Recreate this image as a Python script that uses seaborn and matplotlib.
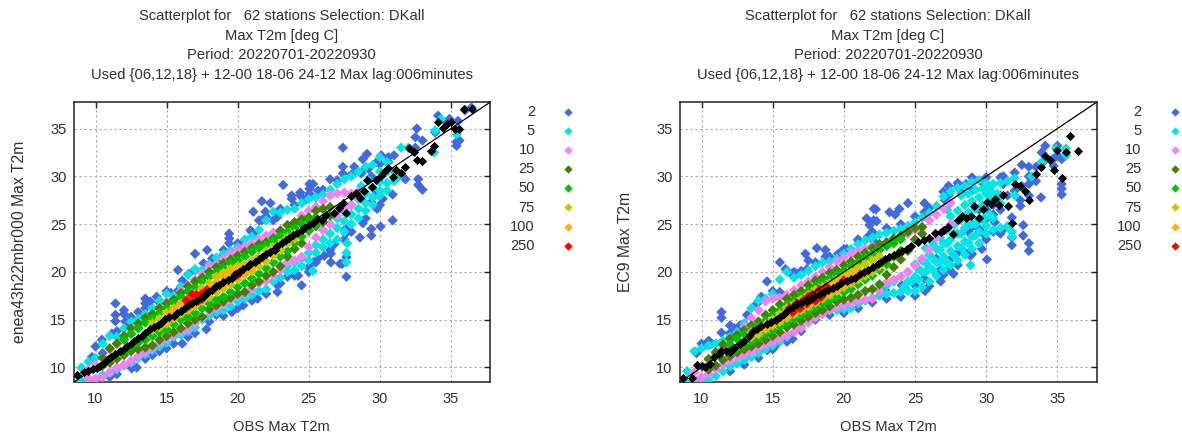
import matplotlib
matplotlib.use("Agg")
import matplotlib.pyplot as plt
import pandas as pd
import seaborn as sns

classes = ["2", "5", "10", "25", "50", "75", "100", "250"]
colors = ["#4169e1", "#00e6e6", "#f580f5", "#458000", "#00c000", "#c8c800", "#ffb000", "#ff0000"]
title_lines = "Scatterplot for   62 stations Selection: DKall\nMax T2m [deg C]\nPeriod: 20220701-20220930\nUsed {06,12,18} + 12-00 18-06 24-12 Max lag:006minutes"
ticks = [10, 15, 20, 25, 30, 35]

# ---- left panel: enea43h22mbr000 ----
l2_x = [9.75,10,10.45,11.15,11.4,12,12,11.4,11.4,12.1,12.3,13.5,13.5,13.5,13.85,14.3,13.26,15.7,16.1,16.55,15.8,17,17.85,18.2,18.8,19.4,19.4,19.4,20.9,21.1,21.1,21.7,22.3,21.95,21.5,21.7,22.5,22.8,20,17.6,
        23.2,23.8,23.8,24.4,24.4,25.05,25.05,25.05,25.3,25.65,26.5,27.4,27.4,27.4,28.2,28.8,29.1,30.1,31,30,29.2,28.7,29.4,30.6,32.5,32.6,33,32.5,34.1,34.7,35.5,35.4,35.6,35.4,36.45,36,33.9,34.9,
        27.65,27.35,27.2,27.65,26.55,26.55,26.8,28.6,29.4,29.4,30.05,30.9,28.8,27.6,27.6,29.8,30.2,30.9,32.7,33,32.7,31.8,29.65,29.4,25,25,24.25,23.5,22.8,24.5,25.65,26.1,25.3,
        9.6,11,12.55,12.9,15,16.1,17.8,18.5,20.4,21.4,22.8,
        10.5,11.5,12.5,13,14.5,15,15.3,16.2,17,18,19,20.3,21,22,23,24,24.8,26,27,28,29,29.8,30.6,
        10,11.5,13.5,14,14.5,15.5,16.5,17,18,19,19.6,20,21,22,23,24,25.5,26.5,27.5,28,29,30]
l2_y = [11.1,12.2,12.9,13.55,16.7,16,15.6,15.5,14.85,14.8,14.4,17.2,16.7,16.2,16.9,17.4,15,17.9,19.1,19.8,20.2,21.9,22.3,21.4,21.4,24,23.5,23,24.35,24,26.3,27.4,27.2,26.3,25.4,25.4,25.4,25.75,23,20.9,
        29.1,28,27.65,28.3,28,29.2,28.7,28.2,29.2,28.5,29.7,33,31,30.3,31,31.8,32.35,32.2,32.2,31.3,30.8,30.3,30,31.5,34.1,35,33.75,33,36.35,35.7,35.8,33.6,33.75,33.2,37.2,36.9,34.6,36,
        19.5,20.85,20.85,21.55,21,21.9,22.9,23.6,23.8,24.5,24.75,25.4,25.1,24,24.5,26.6,27.65,28.1,29.1,28.6,29.7,29.7,28,27.3,20.5,20,19.6,19.5,18.6,18.6,21.4,21.7,21,
        8.33,9,9.9,10,12,12.5,14,15.5,16.5,17.2,17.9,
        11.5,13.8,15.3,15.8,16.8,18,17.8,18.9,20.2,20.8,22.3,22.9,24.2,25.8,26.6,27,27.6,28.6,29.6,30.2,30.9,31.5,32,
        8.6,9.3,10.9,11.3,11.7,12.5,13.2,13.6,14.8,15.4,15.8,16.2,17,17.7,18.8,19.6,21,22.3,23.4,24.2,25.6,27]

l5_x = [9,9.5,10,10.5,11,11.5,12,12.5,13,13.5,14,14.5,15,15.5,16,16.5,17,17.5,18,18.5,19,19.5,20,20.5,21,21.5,22,22.5,23,23.5,24,24.5,25,25.5,26,26.5,27,27.5,28,28.5,29,29.5,30,30.5,31]
l5_hi = [10,10.6,11,12.5,13.3,13.2,14.1,14.8,15.1,15.6,16.2,17,17.7,17.5,18.5,19.7,20.3,20.2,20.8,21.5,21.9,22.2,22.6,23.4,23.7,24.4,25.4,26.3,26.2,26.5,26.6,27.2,27.6,27.8,28.1,28.6,29.2,29.7,30,30.5,31,31.2,32,31.5,30.5]
l5_lo = [8.6,8.5,8.8,9.2,9.4,9.8,10.2,10.5,11,11.4,11.8,12.2,12.6,13.2,13.4,13.8,14.2,15,15.4,15.8,16,16.4,16.9,17.2,17.6,18,18.2,19,19.4,20,20.2,20.6,21.2,22,22.6,23,23.4,24.2,25,25.6,26.4,27,28,28.5,29.5]
l5_xe = [23.5,24,24.5,25,25.5,26,26.5,27,27.5,28,28.5,29,29.5,30,30.5,26,26.5,27,27.5,28,28.5,29,29.5,30,33.9,35.4,33.8,34.3,32,31.5,27.7,27.65,27.65,25.3,28.7,29.2,30,30.5,31.3]
l5_ye = [20.6,21,21.4,22,22.8,23.4,24,24.6,25.3,26,26.6,27.2,27.8,28.5,29.3,24.4,25,25.6,26.3,27,27.6,28.2,28.8,29.4,34.8,34.4,32.5,36,33,33,23,22,21,20.1,29,29.6,30.5,30.5,29.9]

l10_x = [9.5,10,10.5,11,11.5,12,12.5,13,13.5,14,14.5,15,15.5,16,16.5,17,17.5,18,18.5,19,19.5,20,20.5,21,21.5,22,22.5,23,23.5,24,24.5,25,25.5,26,26.5,27,27.5,28,28.5]
l10_hi = [9.8,10.3,11,11.9,12.5,13,13.6,14.3,15,15.5,16.3,16.9,17.2,18,18.6,19.2,19.8,20.6,20.8,21.4,21.9,22.3,22.7,23,23.4,23.8,24.1,24.4,24.9,25.2,25.9,26.4,26.8,27.4,28,28.2,28.3,28.2,28.4]
l10_lo = [8.9,8.8,9,9.5,10,10.3,10.7,11.2,11.6,12,12.6,13,13.4,13.8,14,14.6,15.2,15.9,16.2,16.6,17.1,17.5,17.7,18.2,18.8,19.1,19.6,20.2,21,21.2,21.6,22.6,23.6,24.4,25,25.9,26.6,27,27.8]

l25_x = [10.5,11,11.5,12,12.5,13,13.5,14,14.5,15,15.5,16,16.5,17,17.5,18,18.5,19,19.5,20,20.5,21,21.5,22,22.5,23,23.5,24,24.5,25,25.5,26,26.5]
l25_hi = [11,12,12.5,13.3,14.1,14.6,15.2,15.6,16.2,16.7,17.1,17.8,18.5,19,19.4,20,20.5,20.9,21.3,21.7,22.1,22.5,22.9,23.1,23.5,24.3,24.9,25.2,25.5,25.7,26.4,26.6,26.8]
l25_lo = [10.2,10.5,10.9,11.3,11.7,11.9,12.1,12.3,12.9,13.3,13.7,14.1,14.6,15,15.3,16.1,16.5,16.9,17.3,17.7,17.9,18.6,19,19.6,20,20.6,21.6,22.4,23,24.3,24.8,25.2,25.9]

l50_x = [12,12.5,13,13.5,14,14.5,15,15.5,16,16.5,17,17.5,18,18.5,19,19.5,20,20.5,21,21.5,22,22.5,23,23.5,24,24.5,25,25.5]
l50_hi = [12.9,13.5,14.1,14.7,15.2,15.7,16.2,16.8,17.4,18,18.4,19,19.5,20,20.4,20.9,21.2,21.6,22.1,22.5,22.8,23.3,23.8,24.2,24.6,25,25.4,25.7]
l50_lo = [11.6,12.2,12.6,12.9,13.3,13.7,14,14.5,15,15.3,15.7,16.2,16.7,17.1,17.4,17.9,18.4,18.8,19.3,19.8,20.4,21,21.6,22.2,23,23.7,24.4,25]

l75_x = [14,14.5,15,15.5,16,16.5,17,17.5,18,18.5,19,19.5,20,20.5,21,21.5,22,22.5,23,23.5,24]
l75_hi = [14.6,15.1,15.7,16.2,16.7,17.2,17.7,18.3,18.8,19.5,19.9,20.3,20.6,20.8,21.2,21.6,22.2,22.6,23,23.6,24]
l75_lo = [13.9,14.2,14.6,15.1,15.6,16,16.4,16.9,17.4,17.9,18.3,18.7,19.2,19.7,20.1,20.6,21.1,21.7,22.3,23,23.5]

l100_x = [15,15.5,16,16.5,17,17.5,18,18.5,19,19.5,20,20.5,21]
l100_hi = [15.4,15.9,16.5,17,17.4,17.9,18.4,18.9,19.5,19.9,20.2,20.5,20.9]
l100_lo = [14.9,15.4,15.9,16.3,16.8,17.3,17.8,18.2,18.7,19.2,19.6,20,20.5]

l250_x = [16.4,16.8,17.1,17.5,17.85,17.25,20,16.6,17.5]
l250_y = [17,17.6,17.6,17.7,18.1,17,19.7,16.5,17.2]

l_black_x = [8.7,9.2,9.5,9.8,10.1,10.3,10.6,10.9,11.1,11.4,11.7,11.9,12.2,12.5,12.7,13,13.3,13.5,13.8,14.1,14.4,14.6,14.9,15.2,15.5,15.7,16,16.3,16.5,16.8,17.1,17.4,17.6,17.9,18.2,18.5,18.7,19,19.3,19.6,19.8,20.1,20.4,20.7,20.9,21.2,21.5,21.7,22,22.3,22.6,22.8,23.1,23.4,23.6,23.9,24.2,24.5,24.7,25,25.3,25.6,
             25.9,26.24,26.76,27.1,27.4,27.65,28,28.3,28.6,28.87,29.1,29.46,29.72,30.05,30.3,30.54,30.94,31.17,31.5,31.76,32.04,32.4,32.63,33,33.57,33.8,34.1,34.46,34.74,35,35.3,35.56,35.9,36.45]
l_black_y = [9.2,9.5,9.6,9.8,9.9,10.2,10.5,10.9,11.1,11.4,11.7,11.8,12.2,12.5,12.8,13.1,13.3,13.6,14,14.2,14.4,14.7,15.1,15.3,15.4,15.7,15.9,16.2,16.5,16.8,17,17.3,17.5,17.9,18.1,18.5,18.6,18.9,19.2,19.4,19.8,20,20.3,20.6,20.8,21,21.4,21.6,21.9,22.1,22.3,22.7,23,23.3,23.6,23.9,24.1,24.4,24.6,24.9,25.1,25.5,
             25.4,25.98,26.18,26.67,27.2,26.18,27.9,28.3,27.7,28.45,29.67,28.87,29.67,30,30.5,30.85,29.9,30.7,30.4,31,33,32.5,31.76,31.65,32.7,33.2,35.7,35.1,35.5,35.66,35,35,37,37.05]

# ---- right panel: EC9 ----
r2_x = [9.65,10,10.25,10.7,11.4,11.4,11.4,12,12.3,12.7,13.2,13.9,14.6,15.5,16.3,16.7,17.4,17.3,17.5,18.1,18.7,18.7,19.6,20.2,21,21.6,21.8,22.25,22.3,21.7,22.06,15.5,
        8.7,9.3,14.1,14.6,15.15,16.4,18.1,18.8,20.2,
        22.1,22.1,23.2,23.6,23.9,24.5,25.66,25.66,27.35,27.35,27.35,28,28.57,27.1,28.3,29,29.7,31.2,31.2,32.5,33,33.5,33.85,34.15,33.9,35,35.56,35,35.3,34.74,35.3,35.3,35.3,33,33,
        31.8,31.8,31.8,33,33,32.6,32.6,32.4,32.4,31.1,30.9,30.05,29.7,28.6,28.9,28,27.6,27.35,27.7,26.76,26.8,25.7,25.66,25,24.06,22.9,26.5,30.6,29,28.75,29.5,29.8,30.5,
        30.5,31,31.5,30,29.5,32,32.5,31,30.5,30,29,33,33.5,34,34.7,
        10.5,12,13,14.2,15,15.9,16.5,17,18,19,20,21,22,23,24,25,26,27,28,29,30,31,32,
        10.5,12,13,14,15,16,17,18,19,20,21,22,23,24,25,26,27,28,29,30,31]
r2_y = [11.5,12.5,12.3,12.5,15.8,15.2,13.65,14.4,14.1,14.4,15.5,16.7,19,21,19.8,19.8,20.3,21.9,21.2,22.5,22.3,21.6,21.9,22.4,23.3,25.6,24.9,26.55,25.3,23.7,23.3,17.9,
        8.4,8.4,11.8,11.8,12.2,13,15.5,15.8,16.3,
        26.6,25.4,26.25,26,26.6,27.2,27.2,26.25,29,28.3,28,28.9,29.2,27.5,28.2,28.5,29.4,30,29.2,31.2,31,29.5,27.8,33.2,32.5,33.2,32.2,32.2,31.8,31.1,29.2,28.7,28.1,29.2,28,
        22.8,23.6,25.7,23,22.2,23.8,24.9,26.9,27.5,24.3,24.2,21.3,22.4,21.9,21.7,22,21.5,20.3,19.8,20.2,19,18,19.3,18.6,18.6,18.1,21.4,25.2,24.7,24.2,24.5,24,24.2,
        27,28,28,26.5,26.5,28.5,29,26.5,26,25.5,25,30,31,31.5,31.8,
        12.8,13.6,14.6,17.4,18,20.3,20,20.1,21,21.6,22.4,23.4,24.2,24.6,25,25.8,26.7,28.4,29.3,29.9,29.9,29.9,30.4,
        8.5,9.6,10.3,11,11.9,12.7,13.8,15,15.5,15.7,16.2,16.8,17.2,17.4,17.5,18.5,19.7,20.7,21.9,23.4,24]

r5_x = [9,9.5,10,10.5,11,11.5,12,12.5,13,13.5,14,14.5,15,15.5,16,16.5,17,17.5,18,18.5,19,19.5,20,20.5,21,21.5,22,22.5,23,23.5,24,24.5,25,25.5,26,26.5,27,27.5,28,28.5,29,29.5,30,30.5,31,31.5,32]
r5_hi = [9.6,11.7,12,12.3,12.5,12.8,13.2,13.7,14.6,16.2,17,17.2,17.7,19.2,20,19.4,19.7,20.1,20.6,21,21.1,21.4,21.9,22.4,22.9,23.3,23.6,23.9,24.1,24.3,24.5,24.8,25.2,25.7,26.2,26.9,27.9,28.4,28.8,29,29.4,29.6,29.3,29.2,29.3,29.5,29.8]
r5_lo = [8.3,8.4,8.5,8.7,9.1,9.6,10.1,10.4,10.8,11.1,11.5,11.9,12.3,12.7,13.2,13.7,14.3,14.9,15.5,15.9,16,16,16.1,16.2,16.7,17,17.3,17.5,17.7,17.8,17.9,18,18,18.4,19,19.6,20.2,20.7,21.2,21.8,22.4,23,24,24.4,24.6,24.8,28]
r5_xe = [22.5,23,23.5,24,24.5,25,25.5,26,26.5,27,27.5,28,28.5,29,29.5,30,24.5,25,25.5,26,26.5,27,27.5,28,28.5,29,29.5,30,30.5,27.5,28,28.5,29,29.5,30,30.5,31,33.9,34.2,34.9,35.6,35.6,33.2,31.8,31.8,28.9,
         24.25,24.75,25.25,25.75,26.25,26.75,27.25,27.75,28.25,28.75,29.25,25.25,25.75,26.25,26.75,27.25,27.75,28.25,28.75,29.25,29.75,30.25,25.75,26.25,26.75,27.25,27.75,28.25,28.75,29.25,29.75,30.25,30.75,27.25,28.25,28.75,29.25,29.75,30.25,30.75]
r5_ye = [18.2,18.6,19,19.5,20,20.8,21.2,21.8,22.4,23,23.4,24,24.6,25,25.5,25.8,19,19.5,20,20.5,21,21.6,22.2,22.7,23.2,23.7,24.2,24.8,25.6,25.8,26.4,27,27.4,27.8,28.2,28,27.2,31.5,32,32.9,32.9,32.2,30,24.2,23.7,20.7,
         18.5,19,19.2,20,20.2,21,21,21.7,22.5,23,23.8,20.3,21,21.4,22.3,23,24,24,25,25,25.5,26,22.5,23,23.6,24.4,25,25.5,26.2,26.6,27,27.5,27.5,26.5,28,28.2,28.6,28.7,28.6,28.2]

r10_x = [9.5,10,10.5,11,11.5,12,12.5,13,13.5,14,14.5,15,15.5,16,16.5,17,17.5,18,18.5,19,19.5,20,20.5,21,21.5,22,22.5,23,23.5,24,24.5,25,25.5,26,26.5,27,27.5]
r10_hi = [9.5,10.1,10.8,11.4,12,12.8,13.4,14.3,15.2,16,16.9,17.2,17.3,17.6,18.1,18.6,19,19.5,20,20.5,21.1,21.5,21.9,22.2,22.5,22.7,22.9,23.1,23.4,23.7,24,24.4,24.7,25.4,26,26.6,27.2]
r10_lo = [8.8,9,9.3,9.8,10.3,10.7,11.1,11.3,11.6,12,12.4,12.7,13,13.4,13.7,14.1,14.7,15.2,15.6,16,16.3,16.5,16.7,17,17.1,17.2,18,18.9,19.2,19.5,20,20.7,21.4,22.3,23.6,24.3,25]

r25_x = [10.5,11,11.5,12,12.5,13,13.5,14,14.5,15,15.5,16,16.5,17,17.5,18,18.5,19,19.5,20,20.5,21,21.5,22,22.5,23,23.5,24,24.5,25,25.5]
r25_hi = [10.9,11.6,12.4,13,13.4,13.9,14.4,14.8,15.5,16,16.6,17.2,17.6,18,18.6,19.1,19.4,19.9,20.2,20.7,21.1,21.6,22,22.5,22.9,23.1,23.5,23.8,24.2,24.6,24.7]
r25_lo = [9.8,10.2,10.8,11.2,11.6,11.9,12.2,12.5,12.9,13.3,13.7,14.2,14.5,14.9,15.3,15.7,16,16.4,16.9,17.1,17.3,17.6,18,18.2,18.7,19.7,20.5,21.3,22.2,23.4,24]

r50_x = [12,12.5,13,13.5,14,14.5,15,15.5,16,16.5,17,17.5,18,18.5,19,19.5,20,20.5,21,21.5,22,22.5,23,23.5,24]
r50_hi = [12.4,13,13.5,14,14.3,14.9,15.5,16,16.6,17,17.5,18,18.5,18.9,19.3,19.7,20.1,20.6,21,21.5,21.9,22.3,22.7,23,23.4]
r50_lo = [11.6,12,12.4,12.8,13.1,13.5,13.9,14.3,14.7,15.1,15.5,15.9,16.3,16.7,17,17.4,17.9,18.2,18.7,19.2,19.6,20.2,20.8,21.6,22.2]

r75_x = [13.5,14,14.5,15,15.5,16,16.5,17,17.5,18,18.5,19,19.5,20,20.5,21,21.5,22,22.5]
r75_hi = [13.7,14,14.5,15,15.6,16.2,16.6,17.1,17.6,18.1,18.4,18.8,19.2,19.6,20,20.4,20.8,21.2,21.6]
r75_lo = [13.2,13.5,14,14.4,14.8,15.2,15.6,16,16.4,16.8,17.2,17.6,18,18.4,18.8,19.2,19.6,20,20.6]

r100_x = [14.5,15,15.5,16,16.5,17,17.5,18,18.5,19,19.5,20,20.5,21]
r100_hi = [14.3,14.8,15.3,15.9,16.4,16.9,17.4,17.9,18.2,18.5,18.8,19.2,19.6,20]
r100_lo = [14.1,14.6,15,15.4,15.8,16.2,16.6,17,17.4,17.8,18.2,18.6,19,19.4]

r250_x = [16.2,16.7,17.1,17.5,17.8,18.3,18.8,16.4,16.9,17.4,18,18.4,20]
r250_y = [16.2,16.7,16.9,17.4,17.6,18.1,18.4,15.8,16.2,16.7,17,17.4,19.1]

r_black_x = [8.7,9.3,9.65,10,10.25,10.6,10.9,11.2,11.4,11.7,12,12.3,12.7,13,13.3,13.6,13.9,14.2,14.6,14.9,15.2,15.5,15.8,16.1,16.4,16.7,17,17.4,17.7,18,18.3,18.6,18.9,19.25,19.5,19.8,20.2,20.5,20.8,21.1,21.4,21.7,22.06,22.4,22.6,22.9,23.2,23.5,23.8,24.06,24.4,24.7,25.2,25.6,26,26.4,26.8,27,27.3,27.7,
             28,28.3,28.6,28.9,29.15,29.46,29.74,30.05,30.33,30.63,30.9,31.2,31.5,31.8,32,32.4,32.75,33,33.5,33.85,34.15,34.46,34.74,35,35.3,35.6,35.9,36.45]
r_black_y = [8.85,8.85,10.3,10.2,10,10.4,11.1,11.4,11.7,11.7,11.6,12,12.5,12.8,13.3,13.8,14,14.3,14.6,14.8,15,15.3,15.6,16,16.3,16.6,16.7,17,17.2,17.5,17.7,17.9,18.1,18.3,18.5,18.8,19.1,19.3,19.4,19.8,20,20.2,20.5,20.8,21,21.4,21.6,21.8,22,22.2,22.4,22.7,23.1,23.3,23.6,24.1,24.2,24.4,24.7,24,
             25.4,25.9,25.6,25.9,26.85,25.66,26.6,27.3,27.1,27.65,27.05,28.1,26.9,25.1,29.2,29,28.5,27.5,30.2,31,32.1,31.76,30.7,32.8,29.84,32.6,34.2,32.7]

left_bands = [(l5_x, l5_hi, l5_lo), (l10_x, l10_hi, l10_lo), (l25_x, l25_hi, l25_lo), (l50_x, l50_hi, l50_lo), (l75_x, l75_hi, l75_lo), (l100_x, l100_hi, l100_lo)]
right_bands = [(r5_x, r5_hi, r5_lo), (r10_x, r10_hi, r10_lo), (r25_x, r25_hi, r25_lo), (r50_x, r50_hi, r50_lo), (r75_x, r75_hi, r75_lo), (r100_x, r100_hi, r100_lo)]


def make_frame(x2, y2, bands, xe, ye, x250, y250):
    # one row per cell, lowest class first so the higher classes paint on top
    parts = [pd.DataFrame({"obs": x2, "fc": y2, "n": "2"})]
    for name, (x, hi, lo) in zip(classes[1:7], bands):
        parts.append(pd.DataFrame({"obs": x, "fc": lo, "n": name}))
        parts.append(pd.DataFrame({"obs": x, "fc": hi, "n": name}))
        if name == "5":
            parts.append(pd.DataFrame({"obs": xe, "fc": ye, "n": name}))
    parts.append(pd.DataFrame({"obs": x250, "fc": y250, "n": "250"}))
    return pd.concat(parts, ignore_index=True)


def draw_panel(ax, frame, black_x, black_y, ylabel):
    sns.scatterplot(data=frame, x="obs", y="fc", hue="n", hue_order=classes,
                    palette=dict(zip(classes, colors)), marker="D", s=28,
                    linewidth=0, legend=False, ax=ax, zorder=3)
    ax.plot([8.45, 37.75], [8.45, 37.75], color="black", lw=0.9, zorder=4)
    sns.scatterplot(x=black_x, y=black_y, color="black", marker="D", s=22,
                    linewidth=0, legend=False, ax=ax, zorder=5)
    ax.set_xlim(8.45, 37.75)
    ax.set_ylim(8.45, 37.75)
    ax.set_xticks(ticks)
    ax.set_yticks(ticks)
    ax.grid(True, color="#a8a8a8", linestyle=(0, (2, 2.5)), linewidth=0.8)
    ax.set_axisbelow(True)
    ax.tick_params(direction="in", length=4, width=1, top=True, right=True,
                   labelsize=10.5, labelcolor="#303030", pad=5)
    ax.tick_params(axis="x", pad=7)
    for side in ax.spines.values():
        side.set_linewidth(1.1)
        side.set_color("#202020")
    ax.set_xlabel("OBS Max T2m", fontsize=10.6, color="#303030", labelpad=10)
    ax.set_ylabel(ylabel, fontsize=11.3, color="#303030", labelpad=17)
    ax.set_title(title_lines, fontsize=10.65, color="#303030", linespacing=1.5, pad=17)

    # gnuplot style key right of the frame
    for i, (name, col) in enumerate(zip(classes, colors)):
        ypos = 1 - (9.7 + i * 19.1) / 280
        ax.text(1 + 45 / 417, ypos, name, transform=ax.transAxes, ha="right",
                va="center", fontsize=10.5, color="#303030")
        ax.scatter([1 + 78 / 417], [ypos], transform=ax.transAxes, marker="D",
                   s=18, color=col, linewidth=0, clip_on=False)


sns.set_theme(style="white")
plt.rcParams["font.family"] = ["Liberation Sans", "DejaVu Sans"]

fig = plt.figure(figsize=(11.82, 4.40), dpi=100)
ax_left = fig.add_axes([73.5 / 1182, 57.7 / 440, 416.5 / 1182, 280 / 440])
ax_right = fig.add_axes([679.5 / 1182, 57.7 / 440, 417 / 1182, 280 / 440])

draw_panel(ax_left, make_frame(l2_x, l2_y, left_bands, l5_xe, l5_ye, l250_x, l250_y),
           l_black_x, l_black_y, "enea43h22mbr000 Max T2m")
draw_panel(ax_right, make_frame(r2_x, r2_y, right_bands, r5_xe, r5_ye, r250_x, r250_y),
           r_black_x, r_black_y, "EC9 Max T2m")

fig.savefig("out.png", dpi=100)
